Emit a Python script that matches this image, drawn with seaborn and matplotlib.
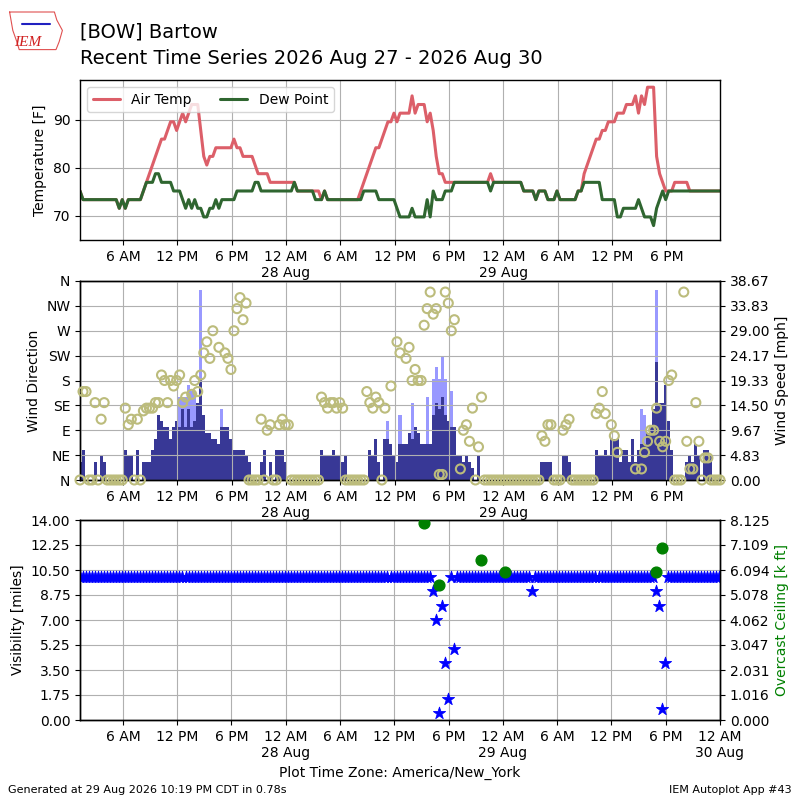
import numpy as np
import pandas as pd
import matplotlib
matplotlib.use("Agg")
import matplotlib.pyplot as plt
import matplotlib.dates as mdates
from matplotlib.lines import Line2D
from matplotlib.ticker import FuncFormatter, FormatStrFormatter
import seaborn as sns

nan = np.nan

# ------------------------------------------
# Observations (every 20 minutes, America/New_York)
# ------------------------------------------
obs_start = "2026-08-27 01:15"

# air temperature [C]
temp_c = [
    24, 23, 23, 23, 23, 23, 23, 23, 23, 23, 23, 23,
    23, 22, 23, 22, 23, 23, 23, 23, 23, 24, 25, 26,
    27, 28, 29, 30, 30, 31, 32, 32, 31, 32, 33, 32,
    33, 34, 34, 34, 31, 28, 27, 28, 28, 29, 29, 29,
    29, 29, 29, 30, 29, 29, 28, 28, 28, 28, 27, 26,
    26, 26, 26, 25, 25, 25, 25, 25, 25, 25, 25, 25,
    24, 24, 24, 24, 24, 24, 24, 24, 23, 24, 23, 23,
    23, 23, 23, 23, 23, 23, 23, 23, 23, 24, 25, 26,
    27, 28, 29, 29, 30, 31, 32, 32, 33, 32, 33, 33,
    33, 33, 35, 33, 34, 34, 34, 32, 33, 31, 28, 26,
    26, 25, 25, 25, 25, 25, 25, 25, 25, 25, 25, 25,
    25, 25, 25, 25, 26, 25, 25, 25, 25, 25, 25, 25,
    25, 25, 25, 24, 24, 24, 24, 23, 24, 24, 24, 23,
    23, 23, 24, 23, 23, 23, 23, 23, 23, 24, 24, 26,
    27, 28, 29, 30, 30, 31, 31, 32, 32, 32, 33, 33,
    33, 34, 34, 34, 35, 33, 35, 34, 36, 36, 36, 28,
    26, 25, 24, 24, 24, 25, 25, 25, 25, 25, 24, 24,
    24, 24, 24, 24, 24, 24, 24, 24, 24,
]

# dew point [C]
dewp_c = [
    24, 23, 23, 23, 23, 23, 23, 23, 23, 23, 23, 23,
    23, 22, 23, 22, 23, 23, 23, 23, 23, 24, 25, 25,
    25, 26, 26, 25, 25, 25, 25, 24, 24, 24, 23, 22,
    23, 22, 23, 22, 22, 21, 21, 22, 22, 23, 22, 23,
    23, 23, 23, 23, 24, 24, 24, 24, 24, 24, 25, 25,
    24, 24, 24, 24, 24, 24, 24, 24, 24, 24, 24, 25,
    24, 24, 24, 24, 24, 24, 23, 23, 23, 24, 23, 23,
    23, 23, 23, 23, 23, 23, 23, 23, 23, 23, 24, 24,
    24, 24, 24, 23, 23, 23, 23, 23, 23, 22, 21, 21,
    21, 21, 22, 21, 21, 21, 21, 23, 21, 24, 23, 23,
    23, 24, 24, 24, 25, 25, 25, 25, 25, 25, 25, 25,
    25, 25, 25, 25, 24, 25, 25, 25, 25, 25, 25, 25,
    25, 25, 25, 24, 24, 24, 24, 23, 24, 24, 24, 23,
    23, 23, 24, 23, 23, 23, 23, 23, 23, 24, 24, 25,
    25, 25, 25, 25, 25, 23, 23, 23, 23, 23, 21, 21,
    22, 22, 22, 22, 22, 23, 22, 21, 21, 21, 20, 22,
    23, 24, 23, 24, 24, 24, 24, 24, 24, 24, 24, 24,
    24, 24, 24, 24, 24, 24, 24, 24, 24,
]

# wind speed [kt]
sknt = [
    3, 5, 0, 0, 0, 3, 0, 4, 3, 0, 0, 0,
    0, 0, 0, 5, 4, 4, 0, 5, 0, 3, 3, 3,
    5, 7, 11, 10, 9, 9, 7, 9, 10, 9, 12, 9,
    12, 9, 10, 13, 17, 11, 8, 8, 7, 7, 6, 9,
    9, 9, 7, 5, 5, 5, 5, 4, 3, 0, 0, 0,
    3, 5, 0, 3, 0, 5, 5, 5, 3, 0, 0, 0,
    0, 0, 0, 0, 0, 0, 0, 0, 5, 4, 4, 4,
    5, 4, 4, 3, 4, 0, 0, 0, 0, 0, 0, 0,
    5, 4, 7, 3, 0, 7, 7, 6, 4, 3, 6, 6,
    6, 8, 7, 9, 8, 6, 6, 6, 6, 11, 13, 12,
    14, 11, 10, 9, 9, 4, 4, 3, 4, 3, 2, 0,
    4, 0, 0, 0, 0, 0, 0, 0, 0, 0, 0, 0,
    0, 0, 0, 0, 0, 0, 0, 0, 0, 3, 3, 3,
    3, 0, 0, 0, 4, 4, 3, 0, 0, 0, 0, 0,
    0, 0, 0, 5, 4, 4, 5, 4, 7, 7, 7, 3,
    5, 5, 3, 7, 3, 5, 6, 6, 8, 9, 12, 20,
    13, 13, 16, 10, 5, 0, 0, 0, 0, 3, 4, 3,
    6, 4, 0, 5, 5, 4, 0, 0, 0,
]

# wind gusts [kt] (observation number, value)
gust_idx = [33, 34, 35, 36, 37, 38, 40, 47,
            102, 106, 110, 115, 117, 118, 119, 120, 121, 123,
            186, 187, 191]
gust_kt = [14, 14, 14, 16, 15, 15, 32, 12,
           10, 11, 13, 14, 17, 19, 17, 21, 17, 15,
           12, 11, 32]

# wind direction [deg], 0 = calm
drct = [
    0, 160, 160, 0, 0, 140, 0, 110, 140, 0, 0, 0,
    0, 0, 0, 130, 100, 110, 0, 110, 0, 125, 130, 130,
    130, 140, 140, 190, 180, 140, 180, 170, 180, 190, 140, 150,
    nan, 155, 180, 160, 190, 230, 250, 220, 270, nan, 240, nan,
    230, 220, 200, 270, 310, 330, 290, 320, 0, 0, 0, 0,
    110, 0, 90, 100, 0, 0, 100, 110, 100, 100, 0, 0,
    0, 0, 0, 0, 0, 0, 0, 0, 150, 140, 130, 140,
    140, 130, 140, 130, 0, 0, 0, 0, 0, 0, 0, 160,
    140, 130, 150, 140, 0, 130, nan, 170, nan, 250, 230, nan,
    220, 240, 180, 200, 180, 180, 280, 310, 340, 300, 310, 10,
    10, 340, 320, 270, 290, nan, 20, 90, 100, 70, 130, 0,
    60, 150, 0, 0, 0, 0, 0, 0, 0, 0, 0, 0,
    0, 0, 0, 0, 0, 0, 0, 0, 0, 80, 70, 100,
    100, 0, 0, 0, 90, 100, 110, 0, 0, 0, 0, 0,
    0, 0, 0, 120, 130, 160, 120, nan, 100, 80, 50, nan,
    nan, nan, nan, nan, 20, nan, 20, 50, 70, 90, 90, 130,
    70, 60, 70, 180, 190, 0, 0, 0, 340, 70, 20, 20,
    140, 70, 0, 40, 40, 0, 0, 0, 0,
]

# visibility [miles]
vsby = [
    10, 10, 10, 10, 10, 10, 10, 10, 10, 10, 10, 10,
    10, 10, 10, 10, 10, 10, 10, 10, 10, 10, 10, 10,
    10, 10, 10, 10, 10, 10, 10, 10, 10, 10, 10, 10,
    10, 10, 10, 10, 10, 10, 10, 10, 10, 10, 10, 10,
    10, 10, 10, 10, 10, 10, 10, 10, 10, 10, 10, 10,
    10, 10, 10, 10, 10, 10, 10, 10, 10, 10, 10, 10,
    10, 10, 10, 10, 10, 10, 10, 10, 10, 10, 10, 10,
    10, 10, 10, 10, 10, 10, 10, 10, 10, 10, 10, 10,
    10, 10, 10, 10, 10, 10, 10, 10, 10, 10, 10, 10,
    10, 10, 10, 10, 10, 10, 10, 10, 10, 9, 7, 0.5,
    8, 4, 1.5, 10, 5, 10, 10, 10, 10, 10, 10, 10,
    10, 10, 10, 10, 10, 10, 10, 10, 10, 10, 10, 10,
    10, 10, 10, 10, 10, 10, 9, 10, 10, 10, 10, 10,
    10, 10, 10, 10, 10, 10, 10, 10, 10, 10, 10, 10,
    10, 10, 10, 10, 10, 10, 10, 10, 10, 10, 10, 10,
    10, 10, 10, 10, 10, 10, 10, 10, 10, 10, 10, 9,
    8, 0.75, 4, 10, 10, 10, 10, 10, 10, 10, 10, 10,
    10, 10, 10, 10, 10, 10, 10, 10, 10,
]

# overcast ceiling [k ft] (observation number, value)
ceil_idx = [114, 119, 133, 141, 191, 193]
ceil_kft = [8.0, 5.5, 6.5, 6.0, 6.0, 7.0]

dir_labels = ["N", "NE", "E", "SE", "S", "SW", "W", "NW", "N"]

# ------------------------------------------
# Build DataFrame
# ------------------------------------------
times = pd.date_range(obs_start, periods=len(temp_c), freq="20min")
KT2MPH = 1.15078

df = pd.DataFrame({
    "valid": times,
    "tmpf": np.array(temp_c) * 1.8 + 32,
    "dwpf": np.array(dewp_c) * 1.8 + 32,
    "smph": np.array(sknt) * KT2MPH,
    "drct": drct,
    "vsby": vsby,
})
gust_mph = np.array(gust_kt) * KT2MPH
gust_times = times[gust_idx]
ceil_times = times[ceil_idx]

# ------------------------------------------
# Style
# ------------------------------------------
sns.set_theme(style="ticks", rc={
    "axes.edgecolor": "black",
    "axes.labelcolor": "black",
    "text.color": "black",
    "xtick.color": "black",
    "ytick.color": "black",
    "xtick.major.size": 3.5,
    "ytick.major.size": 3.5,
    "xtick.major.width": 0.8,
    "ytick.major.width": 0.8,
    "axes.linewidth": 1.0,
    "grid.color": "#b0b0b0",
    "grid.linewidth": 0.8,
    "font.size": 10,
    "axes.labelsize": 10,
    "xtick.labelsize": 10,
    "ytick.labelsize": 10,
    "legend.fontsize": 10,
})
plt.rcParams["font.family"] = ["DejaVu Sans"]


def hour_fmt(x, pos=None):
    d = pd.Timestamp(mdates.num2date(x)).round("min")
    if d.hour == 0:
        return "12 AM\n%d %s" % (d.day, d.strftime("%b"))
    return "%d %s" % ((d.hour - 1) % 12 + 1, "AM" if d.hour < 12 else "PM")


def style_time_axis(ax, right):
    ax.set_xlim(times[0], right)
    ax.xaxis.set_major_locator(mdates.HourLocator(byhour=[0, 6, 12, 18]))
    ax.xaxis.set_major_formatter(FuncFormatter(hour_fmt))
    ax.set_xlabel("")
    ax.grid(True)


fig = plt.figure(figsize=(8, 8), dpi=100)

# ==========================================
# Temperature panel
# ==========================================
ax1 = fig.add_axes([0.1, 0.7, 0.8, 0.2])
sns.lineplot(data=df, x="valid", y="tmpf", ax=ax1, color="#dc5f69",
             lw=2.2, label="Air Temp", estimator=None, sort=False)
sns.lineplot(data=df, x="valid", y="dwpf", ax=ax1, color="#2f6630",
             lw=2.2, label="Dew Point", estimator=None, sort=False)
ax1.set_ylim(df["dwpf"].min() - 3, df["tmpf"].max() + 1.5)
ax1.set_yticks([70, 80, 90])
ax1.set_ylabel("Temperature [F]")
ax1.legend(loc="upper left", ncol=2)
style_time_axis(ax1, times[-1])

# ==========================================
# Wind panel
# ==========================================
ax2 = fig.add_axes([0.1, 0.4, 0.8, 0.24875])
axw = ax2.twinx()
axw.bar(gust_times, gust_mph, width=1 / 72.0, color="#9999ff", lw=0)
axw.bar(df["valid"], df["smph"], width=1 / 72.0, color="#383896", lw=0)
wmax = gust_mph.max() * 1.05
axw.set_ylim(0, wmax)
axw.set_yticks(np.linspace(0, wmax, 9))
axw.yaxis.set_major_formatter(FormatStrFormatter("%.2f"))
axw.set_ylabel("Wind Speed [mph]")

ax2.scatter(df["valid"], df["drct"], s=42, facecolors="none",
            edgecolors="#bcbc7c", linewidths=1.5, clip_on=False, zorder=5)
ax2.set_ylim(0, 360)
ax2.set_yticks(range(0, 361, 45))
ax2.set_yticklabels(dir_labels)
ax2.set_ylabel("Wind Direction")
ax2.set_zorder(axw.get_zorder() + 1)
ax2.patch.set_visible(False)
style_time_axis(ax2, times[-1])
axw.set_xlim(times[0], times[-1])

# ==========================================
# Visibility / ceiling panel
# ==========================================
ax3 = fig.add_axes([0.1, 0.1, 0.8, 0.25])
sns.scatterplot(data=df, x="valid", y="vsby", ax=ax3, marker="*",
                color="blue", s=85, linewidth=0.6, edgecolor="blue",
                zorder=3)
ax3.set_ylim(0, 14)
ax3.set_yticks(np.arange(0, 14.01, 1.75))
ax3.yaxis.set_major_formatter(FormatStrFormatter("%.2f"))
ax3.set_ylabel("Visibility [miles]")
end3 = pd.Timestamp("2026-08-30 00:01")
style_time_axis(ax3, end3)
ax3.set_xlabel("Plot Time Zone: America/New_York")

axc = ax3.twinx()
axc.scatter(ceil_times, ceil_kft, s=60, color="green", zorder=4)
axc.set_ylim(0, 8.125)
axc.set_yticks(np.linspace(0, 8.125, 9))
axc.yaxis.set_major_formatter(FormatStrFormatter("%.3f"))
axc.set_ylabel("Overcast Ceiling [k ft]", color="green")
axc.set_xlim(times[0], end3)

# ==========================================
# Titles, logo and footer
# ==========================================
fig.text(0.1, 1 - 37 / 800.0, "[BOW] Bartow", fontsize=14, va="baseline")
fig.text(0.1, 1 - 64 / 800.0,
         "Recent Time Series 2026 Aug 27 - 2026 Aug 30",
         fontsize=14, va="baseline")

# small IEM logo
logo_x = [0.012, 0.068, 0.071, 0.078, 0.074, 0.07, 0.024, 0.021, 0.016, 0.012]
logo_y = [0.985, 0.985, 0.975, 0.962, 0.948, 0.938, 0.938, 0.948, 0.962, 0.985]
fig.add_artist(Line2D(logo_x, logo_y, color="#e05050", lw=0.8,
                      transform=fig.transFigure))
fig.add_artist(Line2D([0.028, 0.062], [0.97, 0.97], color="#2020c0", lw=1.5,
                      transform=fig.transFigure))
fig.text(0.018, 0.942, "IEM", color="#d02020", fontsize=11,
         fontstyle="italic", family="Liberation Serif")

fig.text(0.01, 0.009, "Generated at 29 Aug 2026 10:19 PM CDT in 0.78s",
         fontsize=8)
fig.text(0.99, 0.009, "IEM Autoplot App #43", fontsize=8, ha="right")

plt.savefig("out.png", dpi=100)
